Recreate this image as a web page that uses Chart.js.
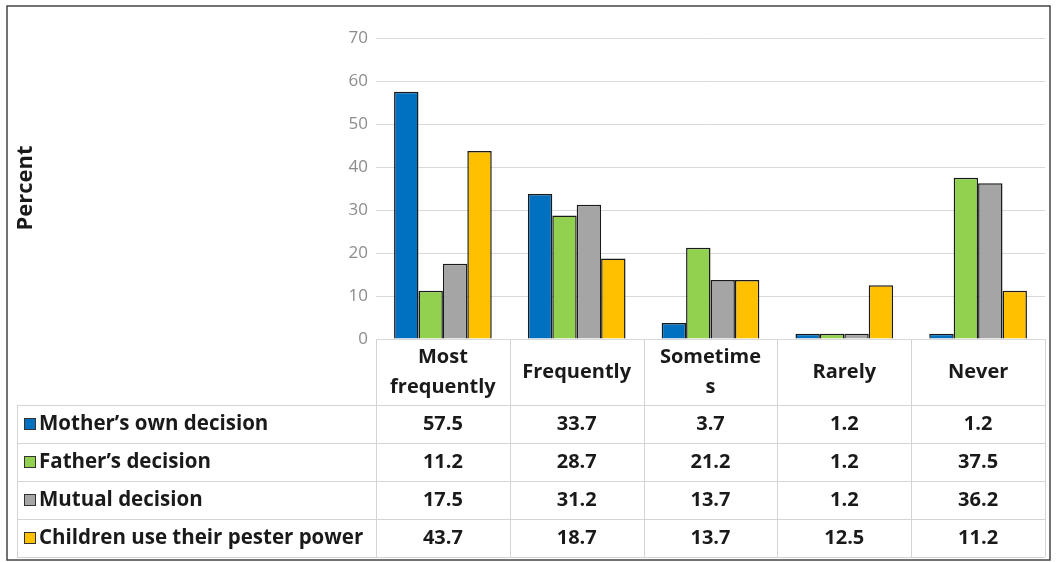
<!DOCTYPE html>
<html lang="en">
  <head>
    <meta charset="UTF-8" />
    <title>Percent by decision type</title>
    <script src="https://cdn.jsdelivr.net/npm/chart.js"></script>
    <style>
      body {
        margin: 0;
        padding: 0;
        background: #fff;
      }
      #wrap {
        width: 1057px;
        height: 562px;
      }
    </style>
  </head>
  <body>
    <div id="wrap"><canvas id="barChart" width="1057" height="562"></canvas></div>
    <script>
      // data
      const categories = [["Most", "frequently"], "Frequently", ["Sometime", "s"], "Rarely", "Never"];
      const seriesNames = ["Mother\u2019s own decision", "Father\u2019s decision", "Mutual decision", "Children use their pester power"];
      const mothersDecision = [57.5, 33.7, 3.7, 1.2, 1.2];
      const fathersDecision = [11.2, 28.7, 21.2, 1.2, 37.5];
      const mutualDecision = [17.5, 31.2, 13.7, 1.2, 36.2];
      const pesterPower = [43.7, 18.7, 13.7, 12.5, 11.2];
      const seriesColors = ["#0070C0", "#92D050", "#A5A5A5", "#FFC000"];
      const yMin = 0, yMax = 70, yStep = 10;

      const allSeries = [mothersDecision, fathersDecision, mutualDecision, pesterPower];
      const FONT = "'Open Sans', Lato, sans-serif";

      // draws the y title, the data table under the plot and the outer frame
      const tablePlugin = {
        id: "dataTable",
        afterDraw(chart) {
          const ctx = chart.ctx;
          const area = chart.chartArea;
          const colW = (area.right - area.left) / categories.length;
          const headTop = area.bottom;
          const headBottom = headTop + 66;
          const rowH = 38;
          const tableLeft = 17;
          const tableBottom = headBottom + rowH * seriesNames.length;

          ctx.save();
          // grid of the table
          ctx.strokeStyle = "#d4d4d4";
          ctx.lineWidth = 1;
          ctx.beginPath();
          for (let i = 0; i <= categories.length; i++) {
            const x = Math.round(area.left + i * colW) + 0.5;
            ctx.moveTo(x, headTop);
            ctx.lineTo(x, tableBottom);
          }
          ctx.moveTo(tableLeft + 0.5, headBottom);
          ctx.lineTo(tableLeft + 0.5, tableBottom);
          for (let r = 0; r <= seriesNames.length; r++) {
            const y = Math.round(headBottom + r * rowH) + 0.5;
            ctx.moveTo(tableLeft, y);
            ctx.lineTo(area.right, y);
          }
          ctx.stroke();

          // header labels
          ctx.fillStyle = "#1a1a1a";
          ctx.font = "bold 20px " + FONT;
          ctx.textAlign = "center";
          ctx.textBaseline = "middle";
          categories.forEach((cat, i) => {
            const cx = area.left + (i + 0.5) * colW;
            const lines = Array.isArray(cat) ? cat : [cat];
            const lh = 30;
            const startY = (headTop + headBottom) / 2 - ((lines.length - 1) * lh) / 2;
            lines.forEach((ln, k) => ctx.fillText(ln, cx, startY + k * lh));
          });

          // rows
          seriesNames.forEach((name, r) => {
            const cy = headBottom + (r + 0.5) * rowH;
            ctx.fillStyle = seriesColors[r];
            ctx.fillRect(24, cy - 6, 12, 12);
            ctx.strokeStyle = "#333";
            ctx.strokeRect(24.5, cy - 5.5, 11, 11);
            ctx.fillStyle = "#1a1a1a";
            ctx.textAlign = "left";
            ctx.font = "bold 20.5px " + FONT;
            ctx.fillText(name, 39, cy);
            ctx.textAlign = "center";
            ctx.font = "bold 20px " + FONT;
            allSeries[r].forEach((v, i) => {
              ctx.fillText(v.toFixed(1), area.left + (i + 0.5) * colW, cy);
            });
          });

          // y axis title
          ctx.translate(26, 188);
          ctx.rotate(-Math.PI / 2);
          ctx.textAlign = "center";
          ctx.font = "bold 22px " + FONT;
          ctx.fillText("Percent", 0, 0);
          ctx.restore();

          // outer frame
          ctx.save();
          ctx.strokeStyle = "#444";
          ctx.lineWidth = 1.5;
          ctx.strokeRect(7, 6, 1043, 554);
          ctx.restore();
        },
      };

      new Chart(document.getElementById("barChart"), {
        type: "bar",
        data: {
          labels: categories,
          datasets: seriesNames.map((name, i) => ({
            label: name,
            data: allSeries[i],
            backgroundColor: seriesColors[i],
            borderColor: "#1a1a1a",
            borderWidth: 1.5,
            barPercentage: 1,
            categoryPercentage: 0.73,
          })),
        },
        options: {
          responsive: false,
          animation: false,
          layout: {
            padding: { left: 330, right: 12, top: 38, bottom: 223 },
          },
          plugins: {
            legend: { display: false },
            tooltip: { enabled: false },
          },
          scales: {
            x: { display: false },
            y: {
              min: yMin,
              max: yMax,
              ticks: {
                stepSize: yStep,
                color: "#8c8c8c",
                font: { family: FONT, size: 17 },
                padding: 8,
              },
              grid: { color: "#d9d9d9", drawTicks: false },
              border: { display: false },
              afterFit(scale) {
                scale.width = 46;
              },
            },
          },
        },
        plugins: [tablePlugin],
      });
    </script>
  </body>
</html>
